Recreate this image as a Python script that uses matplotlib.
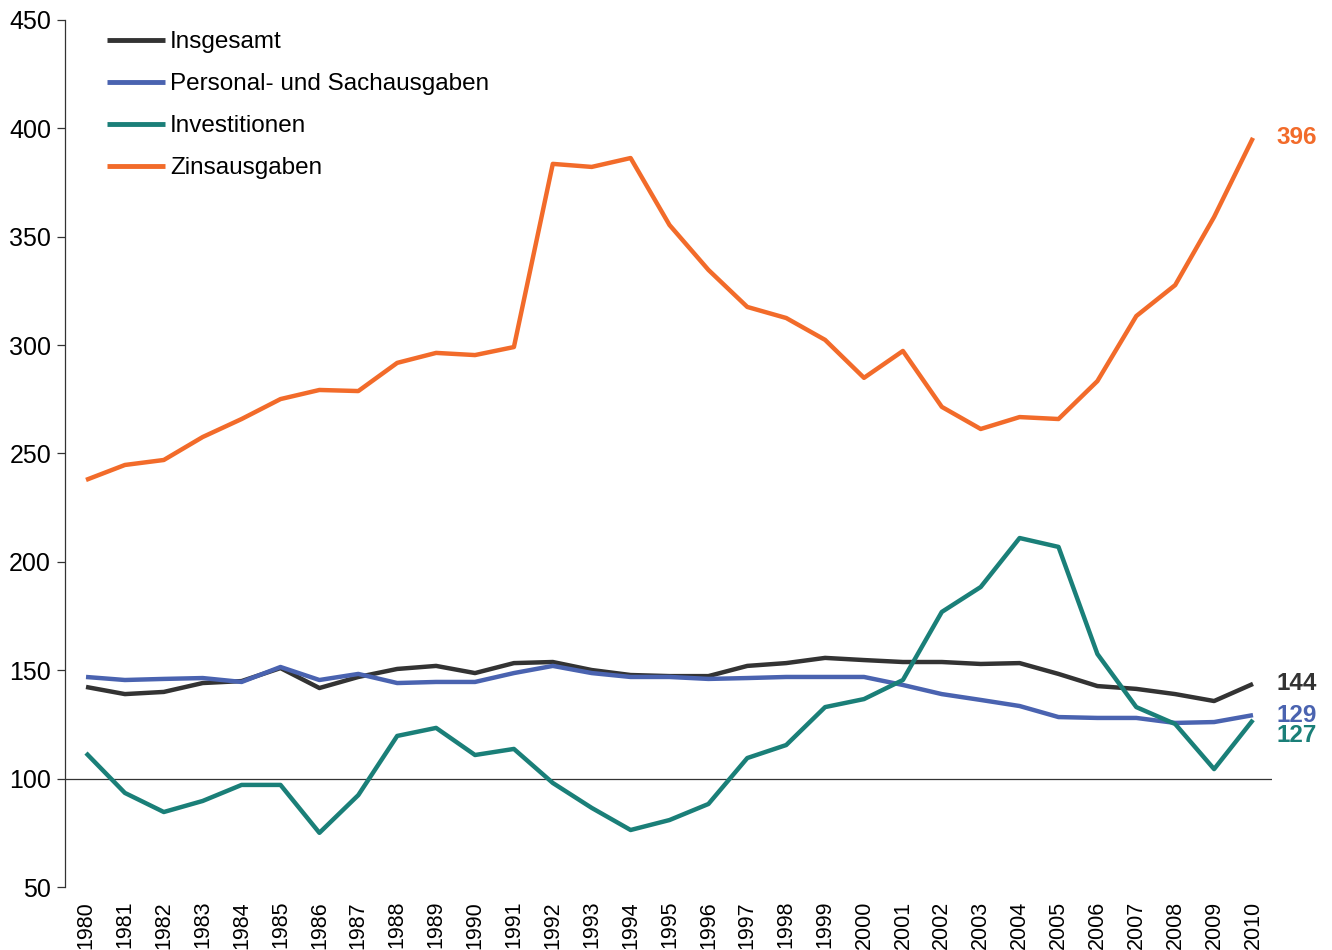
import matplotlib.pyplot as plt

plt.rcParams["font.family"] = ["Liberation Sans", "DejaVu Sans"]

# DATA
years = list(range(1980, 2011))

insgesamt = [142.3, 139.0, 140.0, 144.1, 145.0, 151.0, 141.8, 146.9, 150.6, 152.0,
             148.7, 153.3, 153.8, 150.1, 147.8, 147.3, 147.3, 152.0, 153.3, 155.7,
             154.7, 153.8, 153.8, 152.9, 153.3, 148.3, 142.7, 141.4, 139.0, 135.8,
             143.7]
personal = [146.9, 145.5, 146.0, 146.4, 144.6, 151.5, 145.5, 148.3, 144.1, 144.6,
            144.6, 148.7, 152.0, 148.7, 146.9, 146.9, 146.0, 146.4, 146.9, 146.9,
            146.9, 143.2, 139.0, 136.3, 133.5, 128.4, 128.0, 128.0, 125.7, 126.1,
            129.3]
investitionen = [111.8, 93.4, 84.6, 89.7, 97.1, 97.1, 75.0, 92.4, 119.7, 123.4,
                 110.9, 113.7, 98.0, 86.5, 76.3, 80.9, 88.3, 109.5, 115.5, 133.0,
                 136.7, 145.5, 176.9, 188.4, 211.0, 206.9, 157.5, 133.0, 125.2, 104.4,
                 127.1]
zins = [237.8, 244.7, 247.0, 257.6, 265.9, 275.1, 279.3, 278.8, 291.8, 296.4,
        295.4, 299.1, 383.6, 382.2, 386.3, 355.4, 334.7, 317.6, 312.5, 302.4,
        284.9, 297.3, 271.5, 261.3, 266.8, 265.9, 283.4, 313.4, 327.7, 359.1,
        395.6]

labels = ["Insgesamt", "Personal- und Sachausgaben", "Investitionen", "Zinsausgaben"]
end_labels = ["144", "129", "127", "396"]
colors = ["#333333", "#4a63b0", "#1a7f78", "#f26b2a"]
# vertical nudge of the end labels, in points (negative = down)
end_offsets = [0, 0, -11, 0]


def main():
    fig = plt.figure(figsize=(13.32, 9.5), dpi=100, facecolor="white")
    ax = fig.add_axes([0.0488, 0.0663, 0.9062, 0.9127])

    series = [insgesamt, personal, investitionen, zins]
    for vals, lab, col in zip(series, labels, colors):
        ax.plot(years, vals, color=col, linewidth=3.2, label=lab, solid_capstyle="butt")

    for vals, txt, col, off in zip(series, end_labels, colors, end_offsets):
        ax.annotate(txt, xy=(years[-1], vals[-1]), xytext=(17, off),
                    textcoords="offset points", color=col, fontsize=17.5,
                    fontweight="bold", va="center", ha="left", annotation_clip=False)

    ax.axhline(100, color="#333333", linewidth=0.9, zorder=0)

    ax.set_xlim(1979.46, 2010.49)
    ax.set_ylim(50, 450)
    ax.set_yticks(range(50, 451, 50))
    ax.set_xticks(years)
    ax.set_xticklabels([str(y) for y in years], rotation=90, fontsize=15.5)
    ax.tick_params(axis="y", labelsize=18, direction="out", length=6, width=0.9,
                   color="#333333", pad=4)
    ax.tick_params(axis="x", length=0, pad=10)

    for side in ["top", "right", "bottom"]:
        ax.spines[side].set_visible(False)
    ax.spines["left"].set_color("#333333")
    ax.spines["left"].set_linewidth(0.9)

    leg = ax.legend(loc="upper left", bbox_to_anchor=(0.0165, 1.012), frameon=False,
                    fontsize=17.5, handlelength=2.4, handletextpad=0.2, labelspacing=0.82)
    for line in leg.get_lines():
        line.set_linewidth(3.5)

    fig.savefig("out.png", dpi=100)


if __name__ == "__main__":
    main()
